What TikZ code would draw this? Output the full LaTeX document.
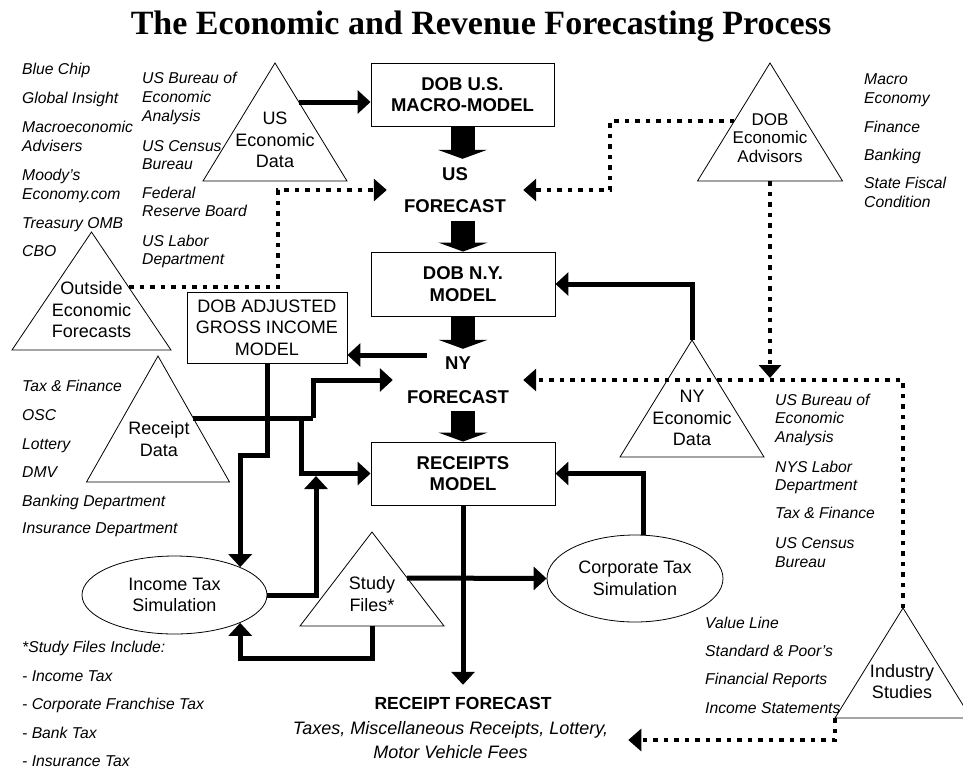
\documentclass[tikz,border=0pt]{standalone}
\usepackage{fontspec}
\setmainfont{Liberation Sans}
\newfontfamily\titlefont{Liberation Serif}
\usetikzlibrary{arrows.meta,shapes.geometric,calc}
\newcommand\nodefont{\fontsize{18}{21.5}\selectfont}
\newcommand\boldfont{\fontsize{18.5}{21.5}\selectfont\bfseries}
\newcommand\listfont{\fontsize{15.7}{18.8}\selectfont\itshape}
\newcommand\listat[3]{\foreach \t/\y [count=\i] in {#3} {\node[lst] (#1-\i) at (#2,\y+5.6) {\t};}}
\newcommand\trishape[5]{%
  \coordinate (#1-top) at (#2,#3);
  \coordinate (#1-l) at (#2-#5,#4);
  \coordinate (#1-r) at (#2+#5,#4);
  \coordinate (#1-b) at (#2,#4);
  \draw[tri] (#1-top) -- (#1-r) -- (#1-l) -- cycle;}
\tikzset{
  box/.style={draw, line width=0.9pt, inner sep=0pt, align=center, font=\nodefont},
  boxb/.style={box, font=\boldfont},
  ell/.style={draw, ellipse, line width=0.8pt, inner sep=0pt, align=center, font=\nodefont},
  tri/.style={draw, line width=0.8pt, line join=miter},
  tritext/.style={align=center, font=\nodefont, inner sep=0pt},
  thk/.style={line width=5pt, -{Triangle[length=13pt,width=23pt]}},
  thkline/.style={line width=5pt},
  dotarr/.style={line width=4.5pt, dash pattern=on 4.5pt off 6pt, -{Triangle[length=13pt,width=22pt]}},
  blockarr/.style={line width=24pt, -{Triangle[length=9pt,width=49pt]}},
  lst/.style={font=\listfont, inner sep=0pt, anchor=base west},
  fc/.style={font=\boldfont, align=center, inner sep=0pt},
}
\begin{document}
\begin{tikzpicture}[x=1pt,y=-1pt]
\useasboundingbox (0,0) rectangle (963,769);

% title
\node[font={\titlefont\bfseries\fontsize{34}{40}\selectfont}] (title) at (481,26) {The Economic and Revenue Forecasting Process};

% boxes
\node[boxb, minimum width=183pt, minimum height=63pt] (usmodel) at (462.5,94.5) {DOB U.S.\\MACRO-MODEL};
\node[boxb, minimum width=184pt, minimum height=64pt] (nymodel) at (463,284) {DOB N.Y.\\MODEL};
\node[boxb, minimum width=184pt, minimum height=63pt] (receipts) at (463,473.5) {RECEIPTS\\MODEL};
\node[box, minimum width=160pt, minimum height=71pt] (agi) at (267,327.5) {DOB ADJUSTED\\GROSS INCOME\\MODEL};

% forecasts
\node[fc, minimum width=136pt, minimum height=62pt] (usfc) at (455,190) {US\\[10.5pt]FORECAST};
\node[fc, minimum width=130pt, minimum height=62pt] (nyfc) at (458,380) {NY\\[12.5pt]FORECAST};

% ellipses
\node[ell, minimum width=185pt, minimum height=78pt] (inctax) at (174.5,595) {Income Tax\\Simulation};
\node[ell, minimum width=176pt, minimum height=87pt] (corptax) at (635,578.5) {Corporate Tax\\Simulation};

% triangles
\trishape{usdata}{275}{63}{181}{72}
\node[tritext] (usdata) at (275,140) {US\\Economic\\Data};
\trishape{outside}{91.5}{232}{350}{79.5}
\node[tritext] (outside) at (91.5,310) {Outside\\Economic\\Forecasts};
\trishape{advisors}{770}{63}{181}{72.5}
\node[tritext, font=\fontsize{17}{18.7}\selectfont] (advisors) at (770,138) {DOB\\Economic\\Advisors};
\trishape{receipt}{158}{356}{482}{71.5}
\node[tritext] (receipt) at (159,439) {Receipt\\Data};
\trishape{nydata}{692}{340}{457}{72}
\node[tritext] (nydata) at (692,418) {NY\\Economic\\Data};
\trishape{study}{372}{532}{626}{72}
\node[tritext] (study) at (372,594) {Study\\Files*};
\trishape{industry}{903}{608}{718}{68}
\node[tritext] (industry) at (902,681.5) {Industry\\Studies};

% receipt forecast
\node[font=\fontsize{17.5}{20}\selectfont\bfseries, inner sep=0pt, text height=12.5pt, text depth=0pt, anchor=base] (rcfc) at (463,709) {RECEIPT FORECAST};
\node[font=\fontsize{18}{24}\selectfont\itshape, align=center, inner xsep=20pt, inner ysep=0pt] (rcdesc) at (450.5,740) {Taxes, Miscellaneous Receipts, Lottery,\\Motor Vehicle Fees};

% lists
\listat{la}{22}{Blue Chip/69, Global Insight/98, Macroeconomic/127, Advisers/146, Moody’s/175, Economy.com/194, Treasury OMB/223, CBO/251}
\listat{lb}{142}{US Bureau of/78, Economic/97, Analysis/116, US Census/146, Bureau/164, Federal/193, Reserve Board/211, US Labor/241, Department/259}
\listat{ra}{864}{Macro/79, Economy/98, Finance/127, Banking/155, State Fiscal/183, Condition/202}
\listat{lc}{22}{Tax \& Finance/386, OSC/415, Lottery/444, DMV/472, Banking Department/501, Insurance Department/528}
\listat{rb}{775}{US Bureau of/400, Economic/418, Analysis/437, NYS Labor/467, Department/485, Tax \& Finance/513, US Census/543, Bureau/562}
\listat{rc}{705}{Value Line/623, Standard \& Poor’s/651, Financial Reports/679, Income Statements/708}
\listat{ld}{22}{*Study Files Include:/647, - Income Tax/676, - Corporate Franchise Tax/704, - Bank Tax/733, - Insurance Tax/761}

% connector coordinates
\coordinate (usdata-out) at (299,102);
\coordinate (out-out) at (129,287);
\coordinate (out-bend) at (278,287);
\coordinate (adv-out) at (734,121);
\coordinate (adv-bend) at (610,121);
\coordinate (adv-tip) at (770,378);
\coordinate (nyfc-l) at (427,355);
\coordinate (rd-out) at (193,418);
\coordinate (rd-j1) at (313,418);
\coordinate (rd-j2) at (301,418);
\coordinate (agi-bend) at (267,455);
\coordinate (it-tip) at (316,476);
\coordinate (sf-out) at (407,578);
\coordinate (sf-bend) at (372,658);

% block arrows
\draw[blockarr] (usmodel.south) -- (usmodel.south |- usfc.north);
\draw[blockarr] (nymodel.north |- usfc.south) -- (nymodel.north);
\draw[blockarr] (nymodel.south) -- (nymodel.south |- nyfc.north);
\draw[blockarr] (receipts.north |- nyfc.south) -- (receipts.north);

% solid connectors
\draw[thk] (usdata-out) -- (usmodel.west |- usdata-out);
\draw[thk] (nydata-top) |- (nymodel.east);
\draw[thk] (nyfc-l) -- (agi.east |- nyfc-l);
\draw[thkline] (rd-out) -- (rd-j1);
\draw[thk] (rd-j1) |- (nyfc.west);
\draw[thk] (rd-j2) |- (receipts.west);
\draw[thk] (agi.south) -- (agi-bend) -| (inctax.north east);
\draw[thk] (inctax.east) -| (it-tip);
\draw[thk] (sf-out) -- (corptax.west);
\draw[thk] (study-b) -- (sf-bend) -| (inctax.south east);
\draw[thk] ([xshift=8pt]corptax.north) |- (receipts.east);
\draw[thk] (receipts.south) -- ([yshift=11.5pt]rcfc.north);

% dotted connectors
\draw[dotarr] (out-out) -- (out-bend) |- (usfc.west);
\draw[dotarr] (adv-out) -- (adv-bend) |- (usfc.east);
\draw[dotarr] (advisors-b) -- (adv-tip);
\draw[dotarr] (industry-top) |- (nyfc.east);
\draw[dotarr] (industry-l) |- (rcdesc.east);
\end{tikzpicture}
\end{document}
